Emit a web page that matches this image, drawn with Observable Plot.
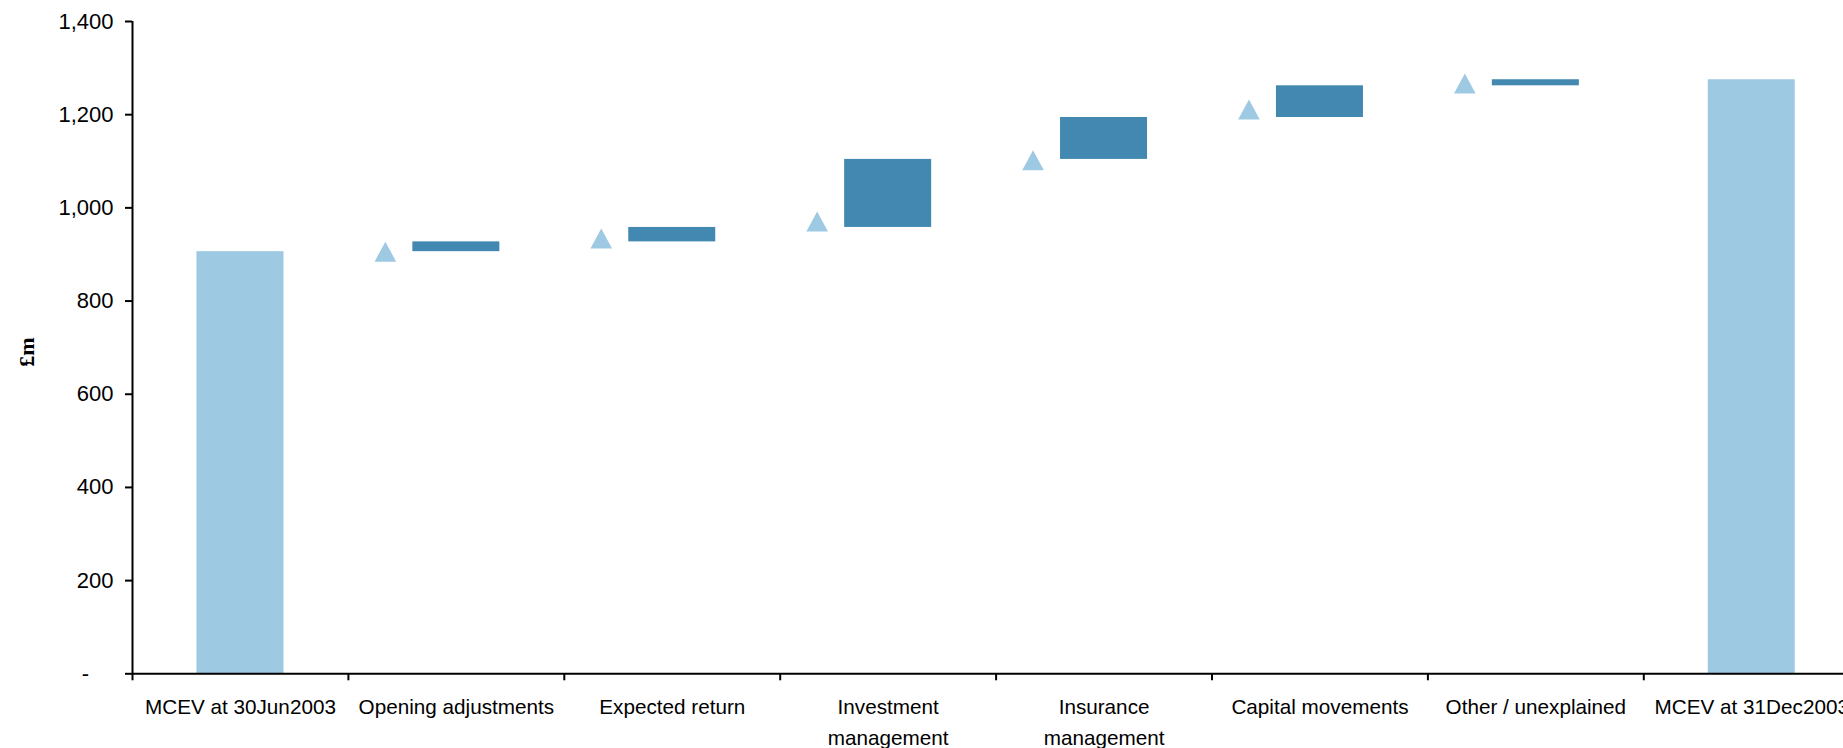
<!DOCTYPE html>
<html><head><meta charset="utf-8">
<script src="https://cdn.jsdelivr.net/npm/d3@7"></script>
<script src="https://cdn.jsdelivr.net/npm/@observablehq/plot@0.6"></script>
<style>
html,body{margin:0;padding:0;background:#fff;overflow:hidden;}
</style></head><body><div id="chart"></div>
<script>
// ---- data ----
const categories = ["MCEV at 30Jun2003","Opening adjustments","Expected return","Investment\nmanagement","Insurance\nmanagement","Capital movements","Other / unexplained","MCEV at 31Dec2003"];
const openingValue = 906;
const closingValue = 1275;
const movementCategories = ["Opening adjustments","Expected return","Investment\nmanagement","Insurance\nmanagement","Capital movements","Other / unexplained"];
const movementValues = [21, 31, 146, 90, 68, 13];
const markerValues = [906, 934, 971, 1102, 1211, 1267];
const yTicks = [0, 200, 400, 600, 800, 1000, 1200, 1400];

// ---- derived tables ----
let cum = openingValue;
const movements = movementCategories.map((c, i) => {
  const s = cum; cum += movementValues[i];
  return {category: c, start: s, end: cum};
});
const totals = [
  {category: categories[0], value: openingValue},
  {category: categories[categories.length - 1], value: closingValue}
];
const markers = movementCategories.map((c, i) => ({category: c, value: markerValues[i]}));

// ---- layout ----
const W = 1843, H = 748, mLeft = 132, mTop = 21, yZero = 673.3;
const step = 215.9;
const xRange = [mLeft, mLeft + step * categories.length];
const light = "#9dc9e2", dark = "#4288b0";
const triangle = {draw(ctx) { ctx.moveTo(0, -10); ctx.lineTo(10.8, 10); ctx.lineTo(-10.8, 10); ctx.closePath(); }};
const font = "'Liberation Sans', Arial, Helvetica, sans-serif";

const chart = Plot.plot({
  width: W, height: H,
  marginLeft: mLeft, marginRight: 0, marginTop: mTop, marginBottom: H - yZero,
  style: {fontFamily: font, background: "#fff", color: "#000", overflow: "hidden"},
  x: {type: "band", domain: categories, range: xRange, paddingInner: 0.597, paddingOuter: 0.2985, align: 0.5, round: false},
  y: {domain: [0, 1400], range: [yZero, mTop]},
  marks: [
    Plot.barY(totals, {x: "category", y1: 0, y2: "value", fill: light}),
    Plot.barY(movements, {x: "category", y1: "start", y2: "end", fill: dark}),
    Plot.dot(markers, {x: "category", y: "value", symbol: triangle, fill: light, stroke: "none", dx: -71}),
    Plot.ruleY([0], {stroke: "#000", strokeWidth: 2}),
    Plot.ruleX([categories[0]], {y1: 0, y2: 1400, dx: -step / 2, stroke: "#000", strokeWidth: 2}),
    Plot.axisY({ticks: yTicks, tickSize: 7, tickPadding: 12, strokeWidth: 2,
      tickFormat: d => d === 0 ? "-    " : d3.format(",")(d), fontSize: 22, label: null}),
    Plot.axisX({tickSize: 7, tickFormat: () => "", dx: -step / 2, strokeWidth: 2, label: null}),
    Plot.axisX({tickSize: 0, tickPadding: 19, fontSize: 20.7, lineHeight: 1.47, label: null}),
    Plot.text(["£m"], {frameAnchor: "left", rotate: -90, dx: -106, dy: 19, fontWeight: "bold",
      fontFamily: "'Liberation Serif', 'Times New Roman', serif", fontSize: 22, fill: "#000"})
  ]
});
document.getElementById("chart").appendChild(chart);
</script>
</body></html>
